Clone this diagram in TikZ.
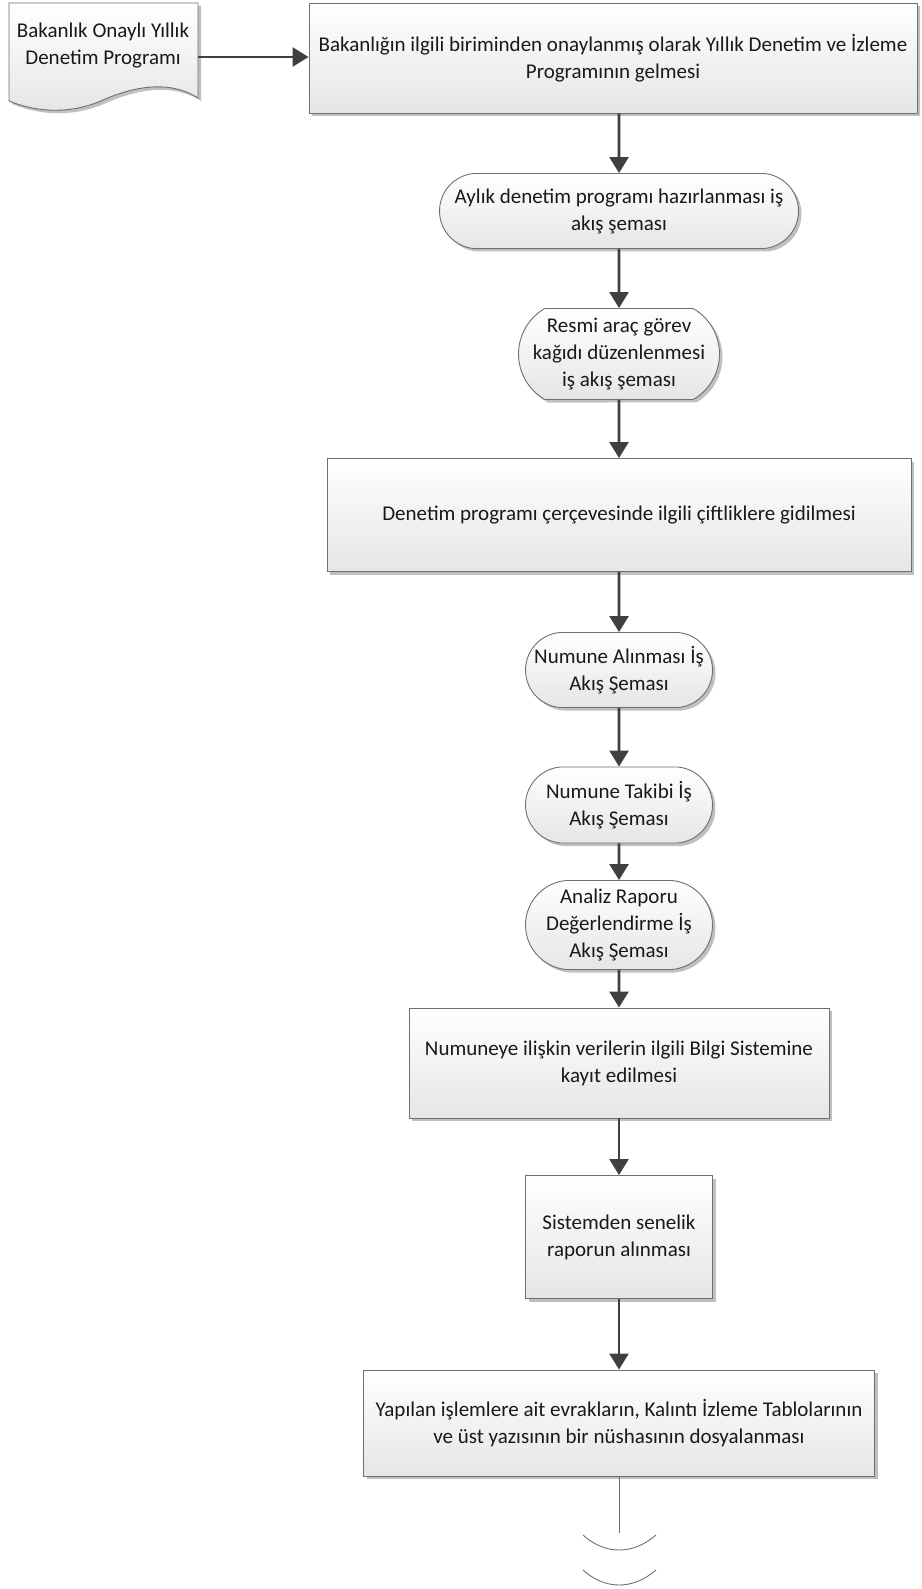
\documentclass[tikz,border=0pt]{standalone}
\usepackage{fontspec}
\setmainfont{Carlito}
\usepackage{tikz}
\usetikzlibrary{shapes.misc,shadows,arrows.meta}

\definecolor{boxline}{HTML}{6F6F6F}
\definecolor{flowgray}{HTML}{404040}
\tikzset{
    box/.style={draw=boxline, line width=0.9pt, top color=white, bottom color=black!10,
        drop shadow={shadow xshift=3pt, shadow yshift=-3pt, fill=black!25, opacity=1},
        align=center, inner sep=0pt, text=black!90,
        font={\fontsize{21}{27}\selectfont}},
    term/.style={box, rounded rectangle, rounded rectangle arc length=170},
    flow/.style={draw=flowgray, line width=2.6pt, -{Triangle[length=16pt,width=19pt]}},
}

\begin{document}
\begin{tikzpicture}[x=1pt,y=-1pt]
        \useasboundingbox (0,0) rectangle (921,1589);
        % document shape at the top left
        \path[box] (9,3) -- (198,3) -- (198,98)
            .. controls (170,80) and (135,86) .. (103,100)
            .. controls (72,114) and (38,113) .. (9,101) -- cycle;
        \node[align=center, text=black!90, font={\fontsize{21}{27}\selectfont}] (doc) at (103,46) {Bakanlık Onaylı Yıllık\\Denetim Programı};
        \coordinate (docr) at (198,57);

        \node[box, minimum width=608pt, minimum height=110pt] (a) at (613,58) {Bakanlığın ilgili biriminden onaylanmış olarak Yıllık Denetim ve İzleme\\Programının gelmesi};
        \node[term, minimum width=359pt, minimum height=75pt] (b) at (619,211) {Aylık denetim programı hazırlanması iş\\akış şeması};
        \node[term, rounded rectangle arc length=120, minimum width=190pt, minimum height=91pt] (c) at (619,354) {Resmi araç görev\\kağıdı düzenlenmesi\\iş akış şeması};
        \node[box, minimum width=584pt, minimum height=113pt] (d) at (619,515) {Denetim programı çerçevesinde ilgili çiftliklere gidilmesi};
        \node[term, minimum width=187pt, minimum height=75pt] (e) at (619,670) {Numune Alınması İş\\Akış Şeması};
        \node[term, minimum width=187pt, minimum height=76pt] (f) at (619,805) {Numune Takibi İş\\Akış Şeması};
        \node[term, minimum width=187pt, minimum height=89pt] (g) at (619,925) {Analiz Raporu\\Değerlendirme İş\\Akış Şeması};
        \node[box, minimum width=420pt, minimum height=110pt] (h) at (619,1063) {Numuneye ilişkin verilerin ilgili Bilgi Sistemine\\kayıt edilmesi};
        \node[box, minimum width=187pt, minimum height=123pt] (i) at (619,1237) {Sistemden senelik\\raporun alınması};
        \node[box, minimum width=511pt, minimum height=106pt] (j) at (619,1423) {Yapılan işlemlere ait evrakların, Kalıntı İzleme Tablolarının\\ve üst yazısının bir nüshasının dosyalanması};

        \draw[flow] (docr) -- (a.west |- docr);
        \draw[flow] (b |- a.south) -- (b);
        \draw[flow] (b) -- (c);
        \draw[flow] (c) -- (d);
        \draw[flow] (d) -- (e);
        \draw[flow] (e) -- (f);
        \draw[flow] (f) -- (g);
        \draw[flow] (g) -- (h);
        \draw[flow] (h) -- (i);
        \draw[flow] (i) -- (j);

        % open end below the last box
        \coordinate (end) at (619,1533);
        \draw[boxline, line width=0.9pt] (j) -- (end);
        \draw[boxline, line width=0.9pt] (583,1535) .. controls (605,1555) and (633,1555) .. (656,1535);
        \draw[boxline, line width=0.9pt] (583,1570) .. controls (605,1590) and (633,1590) .. (656,1570);
\end{tikzpicture}
\end{document}
